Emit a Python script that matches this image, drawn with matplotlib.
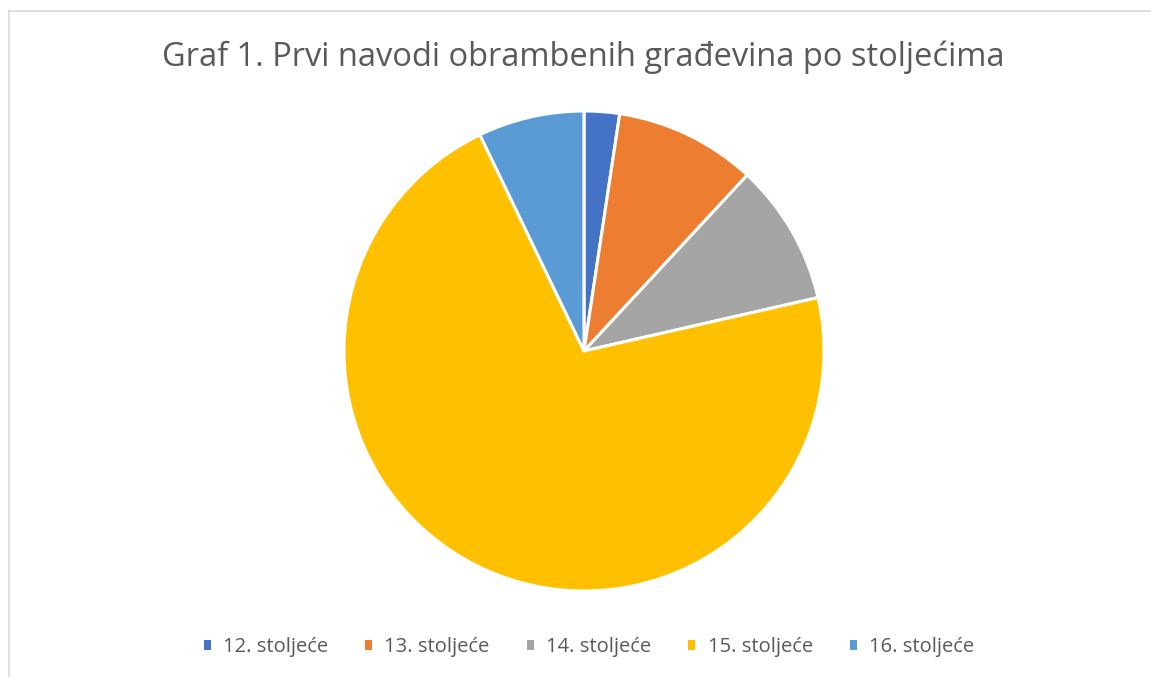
import matplotlib.pyplot as plt
from matplotlib.patches import Patch
from matplotlib.lines import Line2D

plt.rcParams['font.family'] = ['Open Sans', 'DejaVu Sans']

# Data: number of first mentions of fortifications per century
categories = ['12. stoljeće', '13. stoljeće', '14. stoljeće', '15. stoljeće', '16. stoljeće']
counts = [1, 4, 4, 30, 3]
colors = ['#4472C4', '#ED7D31', '#A5A5A5', '#FFC000', '#5B9BD5']
title = 'Graf 1. Prvi navodi obrambenih građevina po stoljećima'

W, H = 1151, 677
fig = plt.figure(figsize=(W / 100, H / 100), dpi=100)
fig.patch.set_facecolor('white')

# pie centre and radius in pixels
cx, cy, r = 584, 351, 240
ax = fig.add_axes([(cx - r) / W, (H - cy - r) / H, 2 * r / W, 2 * r / H])
ax.pie(counts, colors=colors, startangle=90, counterclock=False,
       wedgeprops=dict(edgecolor='white', linewidth=2.2))
ax.set_xlim(-1.0, 1.0)
ax.set_ylim(-1.0, 1.0)
ax.set_aspect('equal')
ax.axis('off')

fig.text(583 / W, 1 - 57 / H, title, ha='center', va='center',
         fontsize=23.5, color='#595959')

handles = [Patch(facecolor=c, edgecolor='none') for c in colors]
fig.legend(handles, categories, loc='center', bbox_to_anchor=(589 / W, 1 - 647 / H),
           ncol=5, frameon=False, fontsize=14.5, labelcolor='#595959',
           handlelength=0.35, handleheight=0.35, handletextpad=0.6,
           columnspacing=1.85)

# chart-area border (left and top edges visible)
fig.add_artist(Line2D([8.5 / W, 8.5 / W], [0, 1 - 11 / H], color='#D9D9D9', lw=1.2))
fig.add_artist(Line2D([8.5 / W, 1], [1 - 11 / H, 1 - 11 / H], color='#D9D9D9', lw=1.2))

fig.savefig('out.png', dpi=100)
